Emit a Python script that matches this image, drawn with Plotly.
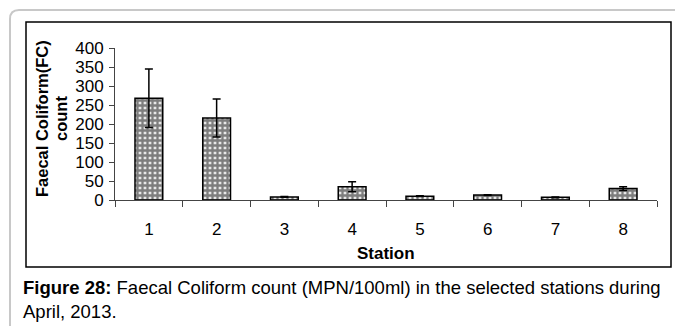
import plotly.graph_objects as go

stations = ["1", "2", "3", "4", "5", "6", "7", "8"]
fc_count = [268, 216, 8, 35, 10, 13, 7, 30]
fc_error = [77, 50, 1, 13, 1, 1, 1, 5]
y_ticks = [0, 50, 100, 150, 200, 250, 300, 350, 400]

W, H = 675, 327
L, R, T, B = 115, 18, 48, 127
PW, PH = W - L - R, H - T - B


def px(x):
    return (x - L) / PW


def py(y):
    return (H - B - y) / PH


FONT = "Liberation Sans, Arial, sans-serif"

fig = go.Figure()
fig.add_trace(go.Bar(
    x=stations, y=fc_count,
    width=0.41,
    marker=dict(
        color="white",
        line=dict(color="black", width=1.5),
        pattern=dict(shape="+", fgcolor="#111111", bgcolor="#e8e8e8", size=5, solidity=0.7),
    ),
    error_y=dict(type="data", array=fc_error, visible=True, color="black", thickness=1.5, width=4),
))

fig.update_layout(
    width=W, height=H,
    margin=dict(l=L, r=R, t=T, b=B),
    paper_bgcolor="white", plot_bgcolor="white",
    showlegend=False,
    font=dict(family=FONT, size=17, color="black"),
)
fig.update_xaxes(
    type="category", range=[-0.5, 7.5],
    showline=True, linecolor="#444444", linewidth=1,
    ticks="outside", tickson="boundaries", ticklen=6, tickcolor="#444444",
    showgrid=False, zeroline=False,
    tickfont=dict(size=17, family=FONT), ticklabelstandoff=14,
)
fig.update_yaxes(
    range=[0, 400], tickvals=y_ticks,
    showline=True, linecolor="#444444", linewidth=1,
    ticks="outside", ticklen=5, tickcolor="#444444",
    showgrid=False, zeroline=False,
    tickfont=dict(size=17, family=FONT), ticklabelstandoff=2,
)

# outer light-gray rounded frame
fig.add_shape(type="path", xref="paper", yref="paper",
              path=f"M {px(10)},{py(326)} L {px(10)},{py(19)} Q {px(10)},{py(10)} {px(19)},{py(10)} L {px(680)},{py(10)}",
              line=dict(color="#c8c8c8", width=2))
# inner chart frame
fig.add_shape(type="rect", xref="paper", yref="paper",
              x0=px(26), x1=px(671), y0=py(267), y1=py(22),
              line=dict(color="black", width=1.5))

# y-axis title
fig.add_annotation(xref="paper", yref="paper", x=px(42), y=py(119), xanchor="center", yanchor="middle",
                   text="<b>Faecal Coliform(FC)</b>",
                   textangle=-90, showarrow=False, font=dict(size=16.5, family=FONT))
fig.add_annotation(xref="paper", yref="paper", x=px(61), y=py(119), xanchor="center", yanchor="middle",
                   text="<b>count</b>",
                   textangle=-90, showarrow=False, font=dict(size=16.5, family=FONT))
# x-axis title
fig.add_annotation(xref="paper", yref="paper", x=px(386), y=py(254), xanchor="center", yanchor="middle",
                   text="<b>Station</b>",
                   showarrow=False, font=dict(size=17, family=FONT))
# caption
fig.add_annotation(xref="paper", yref="paper", x=px(21), y=py(275), xanchor="left", yanchor="top", align="left",
                   text="<b>Figure 28:</b> Faecal Coliform count (MPN/100ml) in the selected stations during<br>April, 2013.",
                   showarrow=False, font=dict(size=18.5, family=FONT))

fig.write_html("out.html")
